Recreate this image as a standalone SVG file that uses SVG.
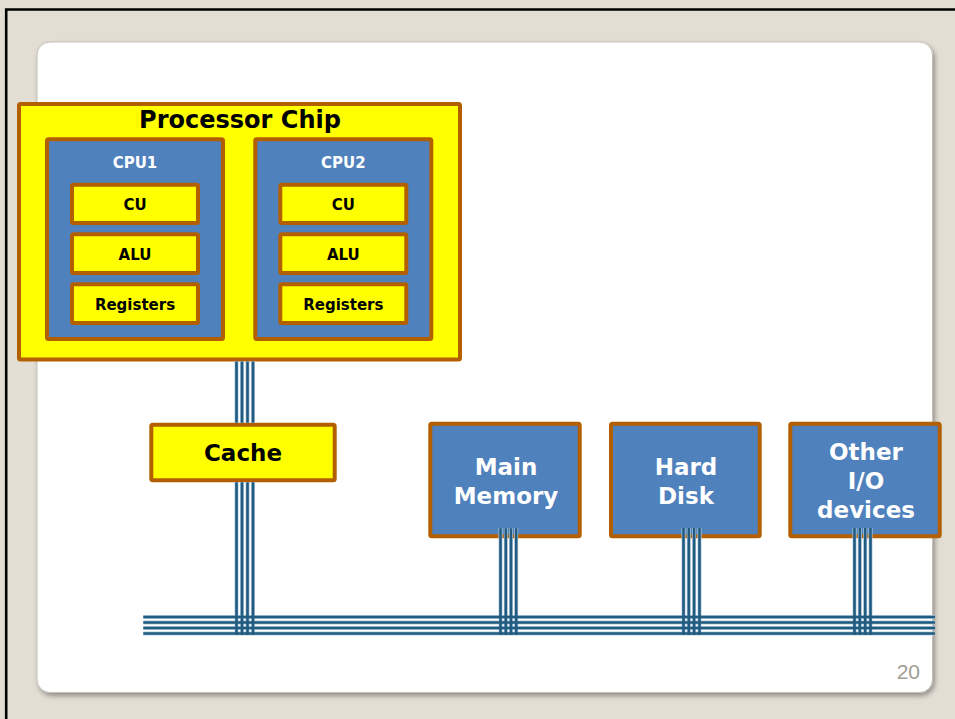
<svg xmlns="http://www.w3.org/2000/svg" width="955" height="719" viewBox="0 0 955 719">
  <defs>
    <filter id="cardShadow" x="-5%" y="-5%" width="110%" height="110%">
      <feDropShadow dx="2" dy="3" stdDeviation="2.5" flood-color="#000" flood-opacity="0.35"/>
    </filter>
  </defs>
  <style>
    .yel { fill: #ffff00; stroke: #b35f00; stroke-width: 4; }
    .blu { fill: #4f81bd; stroke: #b35f00; stroke-width: 4; }
    .cpu { fill: #4f81bd; stroke: #b35f00; stroke-width: 4; }
    text { font-family: "DejaVu Sans", Verdana, sans-serif; font-weight: bold; text-anchor: middle; }
    .dark { fill: #000; }
    .light { fill: #ffffff; }
    .t15 { font-size: 15px; }
    .t23 { font-size: 23px; }
    .t24 { font-size: 24px; }
    .halo { stroke: #b3cbe0; stroke-width: 4; fill: none; }
    .wire { stroke: #215b80; stroke-width: 2.6; fill: none; }
  </style>

  <!-- slide background and frame -->
  <rect x="0" y="0" width="955" height="719" fill="#e3ded4"/>
  <path d="M6.2 719 V9.5 H955" fill="none" stroke="#000" stroke-width="2.6"/>
  <rect x="37" y="42" width="895.5" height="650.5" rx="13" fill="#ffffff" stroke="#c4c0b8" stroke-width="1" filter="url(#cardShadow)"/>

  <!-- processor chip with two CPUs -->
  <g id="processor-chip">
    <rect class="yel" x="19" y="104" width="441" height="255.5" rx="1.5"/>
    <text class="dark t24" x="240" y="127.5">Processor Chip</text>
  </g>
  <g id="cpu1">
    <rect class="cpu" x="47" y="139.3" width="176" height="199.7" rx="1.5"/>
    <text class="light t15" x="135" y="168">CPU1</text>
  </g>
  <g id="cpu1-cu">
    <rect class="yel" x="72" y="184.7" width="126" height="38.3" rx="1.5"/>
    <text class="dark t15" x="135" y="209.5">CU</text>
  </g>
  <g id="cpu1-alu">
    <rect class="yel" x="72" y="234.3" width="126" height="38.7" rx="1.5"/>
    <text class="dark t15" x="135" y="259.5">ALU</text>
  </g>
  <g id="cpu1-registers">
    <rect class="yel" x="72" y="284.3" width="126" height="38.7" rx="1.5"/>
    <text class="dark t15" x="135" y="309.5">Registers</text>
  </g>
  <g id="cpu2">
    <rect class="cpu" x="255.3" y="139.3" width="176" height="199.7" rx="1.5"/>
    <text class="light t15" x="343.3" y="168">CPU2</text>
  </g>
  <g id="cpu2-cu">
    <rect class="yel" x="280.3" y="184.7" width="126" height="38.3" rx="1.5"/>
    <text class="dark t15" x="343.3" y="209.5">CU</text>
  </g>
  <g id="cpu2-alu">
    <rect class="yel" x="280.3" y="234.3" width="126" height="38.7" rx="1.5"/>
    <text class="dark t15" x="343.3" y="259.5">ALU</text>
  </g>
  <g id="cpu2-registers">
    <rect class="yel" x="280.3" y="284.3" width="126" height="38.7" rx="1.5"/>
    <text class="dark t15" x="343.3" y="309.5">Registers</text>
  </g>

  <!-- cache and peripherals -->
  <g id="cache">
    <rect class="yel" x="151.3" y="424.7" width="183.4" height="55.6" rx="1.5"/>
    <text class="dark t23" x="243" y="461.3">Cache</text>
  </g>
  <g id="main-memory">
    <rect class="blu" x="430.3" y="423.7" width="149.4" height="112.6" rx="1.5"/>
    <text class="light t23" x="506" y="475">Main</text>
    <text class="light t23" x="506" y="504.3">Memory</text>
  </g>
  <g id="hard-disk">
    <rect class="blu" x="611" y="423.7" width="148.7" height="112.6" rx="1.5"/>
    <text class="light t23" x="686" y="475">Hard</text>
    <text class="light t23" x="686" y="504.3">Disk</text>
  </g>
  <g id="other-io">
    <rect class="blu" x="790.3" y="423.7" width="149.4" height="112.6" rx="1.5"/>
    <text class="light t23" x="866" y="460">Other</text>
    <text class="light t23" x="866" y="489">I/O</text>
    <text class="light t23" x="866" y="517.7">devices</text>
  </g>

  <!-- system bus: four parallel wires per link -->
  <g id="connectors">
    <g class="halo">
      <path d="M236.5 361.5 V422.7 M242 361.5 V422.7 M247.5 361.5 V422.7 M253 361.5 V422.7"/>
      <path d="M236.5 482.3 V635 M242 482.3 V635 M247.5 482.3 V635 M253 482.3 V635"/>
      <path d="M143.3 617 H935 M143.3 622.5 H935 M143.3 628 H935 M143.3 633.5 H935"/>
      <path d="M500.5 528.3 V635 M505.8 528.3 V635 M511 528.3 V635 M516.2 528.3 V635"/>
      <path d="M683.5 528 V635 M688.8 528 V635 M694.1 528 V635 M699.5 528 V635"/>
      <path d="M854.5 528 V635 M859.8 528 V635 M865.2 528 V635 M870.5 528 V635"/>
    </g>
    <g class="wire">
      <path d="M236.5 361.5 V422.7 M242 361.5 V422.7 M247.5 361.5 V422.7 M253 361.5 V422.7"/>
      <path d="M236.5 482.3 V635 M242 482.3 V635 M247.5 482.3 V635 M253 482.3 V635"/>
      <path d="M143.3 617 H935 M143.3 622.5 H935 M143.3 628 H935 M143.3 633.5 H935"/>
      <path d="M500.5 528.3 V635 M505.8 528.3 V635 M511 528.3 V635 M516.2 528.3 V635"/>
      <path d="M683.5 528 V635 M688.8 528 V635 M694.1 528 V635 M699.5 528 V635"/>
      <path d="M854.5 528 V635 M859.8 528 V635 M865.2 528 V635 M870.5 528 V635"/>
    </g>
  </g>

  <!-- slide number -->
  <text x="920" y="679" style="font-family: 'Liberation Sans', Arial, sans-serif; font-weight: normal; font-size: 21px; text-anchor: end; fill: #a39d94;">20</text>
</svg>
